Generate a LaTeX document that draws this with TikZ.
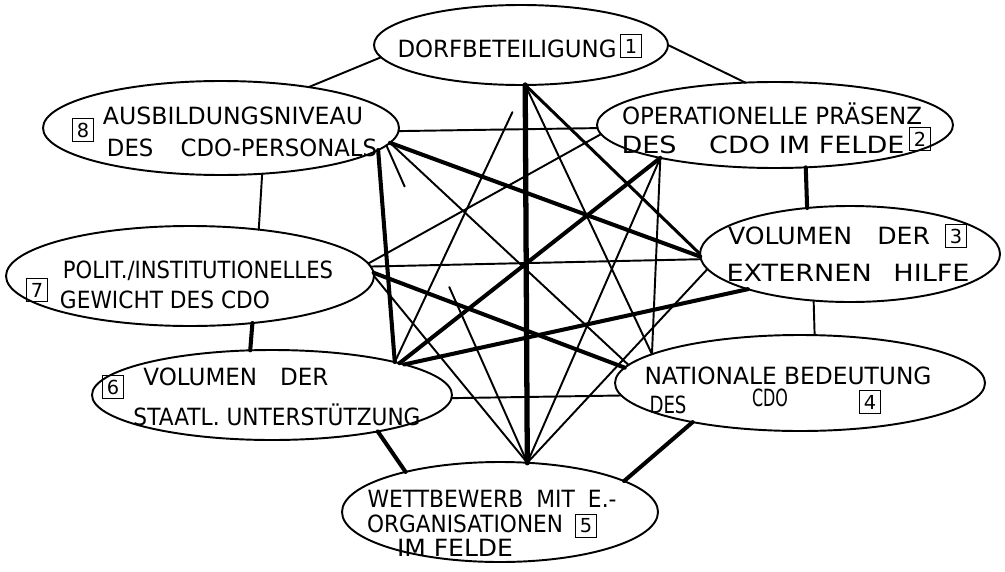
\documentclass[tikz,border=0pt]{standalone}
\usepackage{fontspec}
\setmainfont{DejaVu Sans}
\usetikzlibrary{shapes.geometric}
\newlength\pxu
\setlength\pxu{0.2mm}
% stretch a line of lettering to a given width (in px units), keeping its height
\newcommand\fitw[2]{\resizebox{#1\pxu}{\height}{#2}}
\tikzset{
  oval/.style 2 args={draw, ellipse, line width=1.1pt, inner sep=0pt, outer sep=0pt,
    minimum width=#1*0.4mm, minimum height=#2*0.4mm},
  lettering/.style={inner sep=0pt, font=\fontsize{13.5}{15}\selectfont},
  numbox/.style={draw, line width=0.8pt, inner sep=0pt, minimum width=4.1mm,
    minimum height=4.5mm, font=\fontsize{11}{12}\selectfont},
  link/.style={line width=1.1pt, line cap=round},
  linkm/.style={line width=1.7pt, line cap=round},
  linkb/.style={line width=2.3pt, line cap=round},
  linkx/.style={line width=3pt, line cap=round},
}
\begin{document}
\begin{tikzpicture}[x=0.2mm, y=-0.2mm]
\useasboundingbox (0,0) rectangle (1005,571);

% the eight factors
\node[oval={147}{40}] (n1) at (521,45) {};
\node[oval={178}{43}] (n2) at (775,125) {};
\node[oval={150}{48}] (n3) at (850,254) {};
\node[oval={185}{48}] (n4) at (800,383) {};
\node[oval={158}{50}] (n5) at (500,512) {};
\node[oval={180}{45}] (n6) at (272,395) {};
\node[oval={184}{50}] (n7) at (190,276) {};
\node[oval={178}{47}] (n8) at (221,128) {};

% lettering
\node[lettering] (t1) at (507,49) {\fitw{219}{DORFBETEILIGUNG}};
\node[numbox] (b1) at (631,46) {1};

\node[lettering] (t2a) at (772,114) {\fitw{300}{OPERATIONELLE PRÄSENZ}};
\node[lettering] (t2b) at (763,145) {\fitw{283}{DES\hspace{1.2em}CDO IM FELDE}};
\node[numbox] (b2) at (920,139) {2};

\node[lettering] (t3a) at (829,236) {\fitw{202}{VOLUMEN\hspace{1em}DER}};
\node[numbox] (b3) at (956,236) {3};
\node[lettering] (t3b) at (848,273) {\fitw{243}{EXTERNEN\hspace{0.8em}HILFE}};

\node[lettering] (t4a) at (788,376) {\fitw{287}{NATIONALE BEDEUTUNG}};
\node[lettering] (t4b) at (668,405) {\fitw{37}{DES}};
\node[lettering] (t4c) at (770,398) {\fitw{36}{CDO}};
\node[numbox] (b4) at (870,402) {4};

\node[lettering] (t5a) at (492,499) {\fitw{249}{WETTBEWERB\hspace{0.6em}MIT\hspace{0.6em}E.-}};
\node[lettering] (t5b) at (465,524) {\fitw{196}{ORGANISATIONEN}};
\node[numbox] (b5) at (586,526) {5};
\node[lettering] (t5c) at (455,548) {\fitw{116}{IM FELDE}};

\node[numbox] (b6) at (113,387) {6};
\node[lettering] (t6a) at (236,377) {\fitw{185}{VOLUMEN\hspace{1em}DER}};
\node[lettering] (t6b) at (277,415) {\fitw{287}{STAATL. UNTERSTÜTZUNG}};

\node[numbox] (b7) at (37,290) {7};
\node[lettering] (t7a) at (198,271) {\fitw{270}{POLIT./INSTITUTIONELLES}};
\node[lettering] (t7b) at (165,300) {\fitw{210}{GEWICHT DES CDO}};

\node[numbox] (b8) at (83,130) {8};
\node[lettering] (t8a) at (233,116) {\fitw{260}{AUSBILDUNGSNIVEAU}};
\node[lettering] (t8b) at (242,148) {\fitw{270}{DES\hspace{1.2em}CDO-PERSONALS}};

% links between the factors
\draw[link]  (n1.0)     -- (n2.125.3);   % 1-2
\draw[linkm] (n1.-84.3) -- (n3.180);     % 1-3
\draw[link]  (n1.-84.3) -- (n4.169.8);   % 1-4
\draw[linkx] (n1.-84.3) -- (n5.61.3);    % 1-5
\draw[link, shorten <=6mm] (n1.-84.3) -- (n6.15);  % 1-6
\draw[link]  (n1.185.7) -- (n8.25.2);    % 1-8

\draw[linkb] (n2.-54.7) -- (n3.133.8);   % 2-3
\draw[link]  (n2.196)   -- (n4.169);     % 2-4
\draw[link]  (n2.196)   -- (n5.61.3);    % 2-5
\draw[linkb] (n2.196)   -- (n6.14.5);    % 2-6
\draw[link]  (n2.183)   -- (n7.4);       % 2-7
\draw[link]  (n2.181)   -- (n8.-1);      % 2-8

\draw[link]  (n3.232.3) -- (n4.73.7);    % 3-4
\draw[link]  (n3.186)   -- (n5.61.3);    % 3-5
\draw[linkb] (n3.199)   -- (n6.13);      % 3-6
\draw[link]  (n3.182)   -- (n7.3);       % 3-7
\draw[linkb] (n3.181)   -- (n8.-5);      % 3-8

\draw[linkb] (n4.200)   -- (n5.14.3);    % 4-5
\draw[link]  (n4.184.5) -- (n6.-1);      % 4-6
\draw[linkb] (n4.175.8) -- (n7.1.5);     % 4-7
\draw[link]  (n4.174.4) -- (n8.-5);      % 4-8

\draw[linkb] (n5.157.2) -- (n6.-19.2);   % 5-6
\draw[link]  (n5.61.3)  -- (n7.0);       % 5-7
\draw[link, dash pattern=on 9mm off 22mm on 60mm] (n8.-6.5) -- (n5.61.3); % 5-8

\draw[linkb] (n6.116.2) -- (n7.-37.7);   % 6-7
\draw[linkb] (n6.15.5)  -- (n8.-8.7);    % 6-8

\draw[link]  (n7.34.8)  -- (n8.-48);     % 7-8
\end{tikzpicture}
\end{document}
